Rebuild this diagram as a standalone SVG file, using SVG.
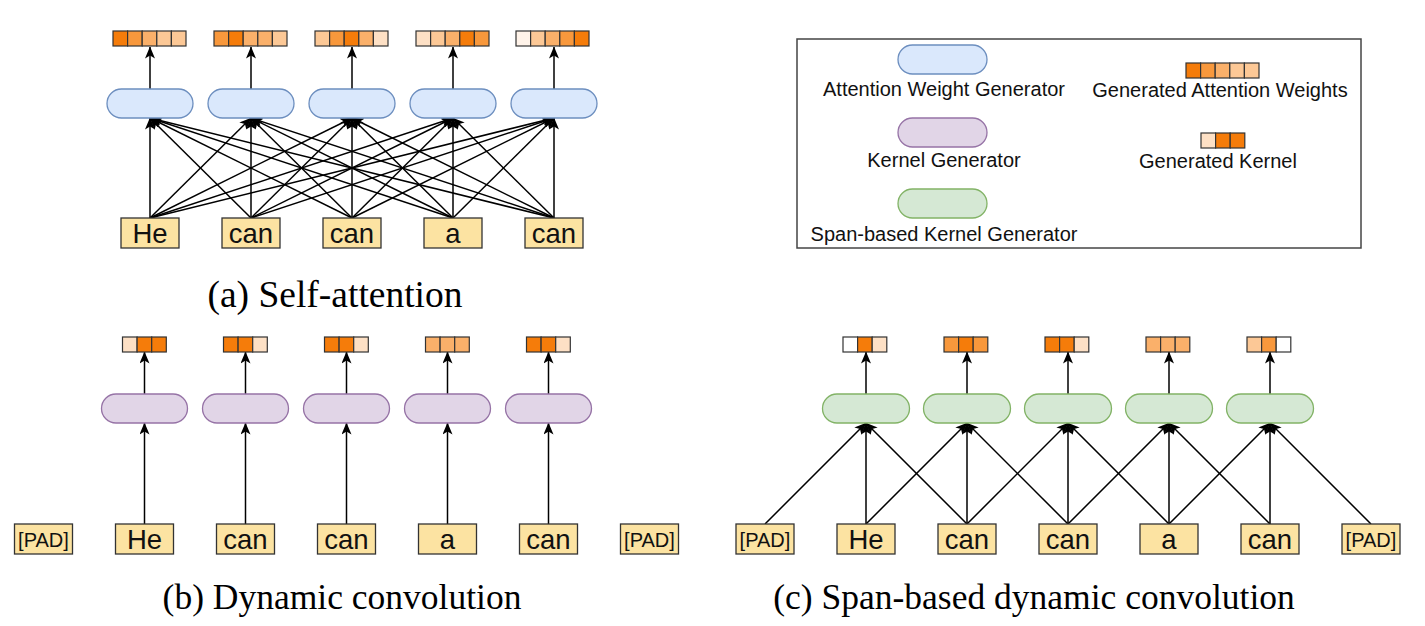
<svg xmlns="http://www.w3.org/2000/svg" width="1425" height="626" viewBox="0 0 1425 626">
<defs>
<marker id="arr" markerUnits="userSpaceOnUse" markerWidth="12" markerHeight="10" viewBox="0 0 12 10" refX="11.5" refY="5" orient="auto">
<path d="M0,0 L12,5 L0,10 L3,5 Z" fill="#000"/>
</marker>
<style>
.bg{fill:#fff}
.pa{fill:#dae8fc;stroke:#6c8ebf;stroke-width:1.3}
.pk{fill:#e1d5e7;stroke:#9673a6;stroke-width:1.3}
.ps{fill:#d5e8d4;stroke:#82b366;stroke-width:1.3}
.tok{fill:#fce3a2;stroke:#333;stroke-width:1.3}
.tt{font-family:"Liberation Sans",Arial,sans-serif;font-size:27.5px;fill:#111;text-anchor:middle}
.pt{font-family:"Liberation Sans",Arial,sans-serif;font-size:20px;fill:#111;text-anchor:middle}
.lg{font-family:"Liberation Sans",Arial,sans-serif;font-size:20px;fill:#111;text-anchor:middle}
.cap{font-family:"Liberation Serif","Times New Roman",serif;font-size:35.5px;fill:#000;text-anchor:middle}
.e{stroke:#000;stroke-width:1.5;fill:none;marker-end:url(#arr)}
.bar rect{stroke:#333;stroke-width:1.2;height:15px;width:14.6px}
.k0{fill:#ffffff}.kw{fill:#fff3e9}.k1{fill:#fde0c5}.k2{fill:#fcc896}.k3{fill:#fab06a}.k4{fill:#f8983c}.k5{fill:#f57c0a}
.box{fill:none;stroke:#444;stroke-width:1.5}
</style>
</defs>
<rect class="bg" x="0" y="0" width="1425" height="626"/>

<!-- ========== (a) Self-attention ========== -->
<g id="a-edges">
<path class="e" d="M150,218 L150,118"/><path class="e" d="M150,218 L251,118"/><path class="e" d="M150,218 L352,118"/><path class="e" d="M150,218 L453,118"/><path class="e" d="M150,218 L554,118"/>
<path class="e" d="M251,218 L150,118"/><path class="e" d="M251,218 L251,118"/><path class="e" d="M251,218 L352,118"/><path class="e" d="M251,218 L453,118"/><path class="e" d="M251,218 L554,118"/>
<path class="e" d="M352,218 L150,118"/><path class="e" d="M352,218 L251,118"/><path class="e" d="M352,218 L352,118"/><path class="e" d="M352,218 L453,118"/><path class="e" d="M352,218 L554,118"/>
<path class="e" d="M453,218 L150,118"/><path class="e" d="M453,218 L251,118"/><path class="e" d="M453,218 L352,118"/><path class="e" d="M453,218 L453,118"/><path class="e" d="M453,218 L554,118"/>
<path class="e" d="M554,218 L150,118"/><path class="e" d="M554,218 L251,118"/><path class="e" d="M554,218 L352,118"/><path class="e" d="M554,218 L453,118"/><path class="e" d="M554,218 L554,118"/>
<path class="e" d="M150,89 L150,47"/><path class="e" d="M251,89 L251,47"/><path class="e" d="M352,89 L352,47"/><path class="e" d="M453,89 L453,47"/><path class="e" d="M554,89 L554,47"/>
</g>

<g id="a-gen1"><rect class="pa" x="107" y="89" width="86" height="29" rx="14.5"/></g>
<g id="a-gen2"><rect class="pa" x="208" y="89" width="86" height="29" rx="14.5"/></g>
<g id="a-gen3"><rect class="pa" x="309" y="89" width="86" height="29" rx="14.5"/></g>
<g id="a-gen4"><rect class="pa" x="410" y="89" width="86" height="29" rx="14.5"/></g>
<g id="a-gen5"><rect class="pa" x="511" y="89" width="86" height="29" rx="14.5"/></g>

<g id="a-w1" class="bar" transform="translate(113,31)"><rect class="k5" x="0"/><rect class="k4" x="14.6"/><rect class="k3" x="29.2"/><rect class="k2" x="43.8"/><rect class="k2" x="58.4"/></g>
<g id="a-w2" class="bar" transform="translate(214,31)"><rect class="k4" x="0"/><rect class="k5" x="14.6"/><rect class="k3" x="29.2"/><rect class="k3" x="43.8"/><rect class="k2" x="58.4"/></g>
<g id="a-w3" class="bar" transform="translate(315,31)"><rect class="k2" x="0"/><rect class="k4" x="14.6"/><rect class="k5" x="29.2"/><rect class="k3" x="43.8"/><rect class="k1" x="58.4"/></g>
<g id="a-w4" class="bar" transform="translate(416,31)"><rect class="k1" x="0"/><rect class="k2" x="14.6"/><rect class="k3" x="29.2"/><rect class="k5" x="43.8"/><rect class="k4" x="58.4"/></g>
<g id="a-w5" class="bar" transform="translate(516,31)"><rect class="kw" x="0"/><rect class="k2" x="14.6"/><rect class="k3" x="29.2"/><rect class="k4" x="43.8"/><rect class="k5" x="58.4"/></g>

<g id="a-t1"><rect class="tok" x="121" y="218" width="58" height="30"/><text class="tt" x="150" y="243">He</text></g>
<g id="a-t2"><rect class="tok" x="222" y="218" width="58" height="30"/><text class="tt" x="251" y="243">can</text></g>
<g id="a-t3"><rect class="tok" x="323" y="218" width="58" height="30"/><text class="tt" x="352" y="243">can</text></g>
<g id="a-t4"><rect class="tok" x="424" y="218" width="58" height="30"/><text class="tt" x="453" y="243">a</text></g>
<g id="a-t5"><rect class="tok" x="525" y="218" width="58" height="30"/><text class="tt" x="554" y="243">can</text></g>

<text id="cap-a" class="cap" x="335" y="307" style="font-size:37.5px">(a) Self-attention</text>

<!-- ========== Legend ========== -->
<g id="legend">
<rect class="box" x="797" y="39" width="564" height="209"/>
<g id="lg-attn"><rect class="pa" x="898" y="45" width="89" height="29" rx="14.5"/><text class="lg" x="944" y="96">Attention Weight Generator</text></g>
<g id="lg-kern"><rect class="pk" x="898" y="118" width="89" height="29" rx="14.5"/><text class="lg" x="944" y="167">Kernel Generator</text></g>
<g id="lg-span"><rect class="ps" x="898" y="189" width="89" height="29" rx="14.5"/><text class="lg" x="944" y="241">Span-based Kernel Generator</text></g>
<g id="lg-weights"><g class="bar" transform="translate(1186,63)"><rect class="k5" x="0"/><rect class="k4" x="14.6"/><rect class="k3" x="29.2"/><rect class="k2" x="43.8"/><rect class="k2" x="58.4"/></g><text class="lg" x="1220" y="97">Generated Attention Weights</text></g>
<g id="lg-kernel"><g class="bar" transform="translate(1201,133)"><rect class="k1" x="0"/><rect class="k5" x="14.6"/><rect class="k5" x="29.2"/></g><text class="lg" x="1218" y="168">Generated Kernel</text></g>
</g>

<!-- ========== (b) Dynamic convolution ========== -->
<g id="b-edges">
<path class="e" d="M144.5,524 L144.5,423"/><path class="e" d="M245.5,524 L245.5,423"/><path class="e" d="M346.5,524 L346.5,423"/><path class="e" d="M447.5,524 L447.5,423"/><path class="e" d="M548.5,524 L548.5,423"/>
<path class="e" d="M144.5,394 L144.5,352"/><path class="e" d="M245.5,394 L245.5,352"/><path class="e" d="M346.5,394 L346.5,352"/><path class="e" d="M447.5,394 L447.5,352"/><path class="e" d="M548.5,394 L548.5,352"/>
</g>
<g id="b-gen1"><rect class="pk" x="101.5" y="394" width="86" height="29" rx="14.5"/></g>
<g id="b-gen2"><rect class="pk" x="202.5" y="394" width="86" height="29" rx="14.5"/></g>
<g id="b-gen3"><rect class="pk" x="303.5" y="394" width="86" height="29" rx="14.5"/></g>
<g id="b-gen4"><rect class="pk" x="404.5" y="394" width="86" height="29" rx="14.5"/></g>
<g id="b-gen5"><rect class="pk" x="505.5" y="394" width="86" height="29" rx="14.5"/></g>

<g id="b-k1" class="bar" transform="translate(122.5,337)"><rect class="k1" x="0"/><rect class="k5" x="14.6"/><rect class="k5" x="29.2"/></g>
<g id="b-k2" class="bar" transform="translate(223.5,337)"><rect class="k5" x="0"/><rect class="k5" x="14.6"/><rect class="k1" x="29.2"/></g>
<g id="b-k3" class="bar" transform="translate(324.5,337)"><rect class="k5" x="0"/><rect class="k5" x="14.6"/><rect class="k1" x="29.2"/></g>
<g id="b-k4" class="bar" transform="translate(425.5,337)"><rect class="k3" x="0"/><rect class="k3" x="14.6"/><rect class="k3" x="29.2"/></g>
<g id="b-k5" class="bar" transform="translate(526.5,337)"><rect class="k5" x="0"/><rect class="k5" x="14.6"/><rect class="k1" x="29.2"/></g>

<g id="b-t0"><rect class="tok" x="14.5" y="524" width="58" height="30"/><text class="pt" x="43.5" y="547">[PAD]</text></g>
<g id="b-t1"><rect class="tok" x="115.5" y="524" width="58" height="30"/><text class="tt" x="144.5" y="549">He</text></g>
<g id="b-t2"><rect class="tok" x="216.5" y="524" width="58" height="30"/><text class="tt" x="245.5" y="549">can</text></g>
<g id="b-t3"><rect class="tok" x="317.5" y="524" width="58" height="30"/><text class="tt" x="346.5" y="549">can</text></g>
<g id="b-t4"><rect class="tok" x="418.5" y="524" width="58" height="30"/><text class="tt" x="447.5" y="549">a</text></g>
<g id="b-t5"><rect class="tok" x="519.5" y="524" width="58" height="30"/><text class="tt" x="548.5" y="549">can</text></g>
<g id="b-t6"><rect class="tok" x="620.5" y="524" width="58" height="30"/><text class="pt" x="649.5" y="547">[PAD]</text></g>

<text id="cap-b" class="cap" x="342" y="609">(b) Dynamic convolution</text>

<!-- ========== (c) Span-based dynamic convolution ========== -->
<g id="c-edges">
<path class="e" d="M765,524 L866,423"/>
<path class="e" d="M866,524 L866,423"/><path class="e" d="M866,524 L967,423"/>
<path class="e" d="M967,524 L866,423"/><path class="e" d="M967,524 L967,423"/><path class="e" d="M967,524 L1068,423"/>
<path class="e" d="M1068,524 L967,423"/><path class="e" d="M1068,524 L1068,423"/><path class="e" d="M1068,524 L1169,423"/>
<path class="e" d="M1169,524 L1068,423"/><path class="e" d="M1169,524 L1169,423"/><path class="e" d="M1169,524 L1270,423"/>
<path class="e" d="M1270,524 L1169,423"/><path class="e" d="M1270,524 L1270,423"/>
<path class="e" d="M1371,524 L1270,423"/>
<path class="e" d="M866,394 L866,352"/><path class="e" d="M967,394 L967,352"/><path class="e" d="M1068,394 L1068,352"/><path class="e" d="M1169,394 L1169,352"/><path class="e" d="M1270,394 L1270,352"/>
</g>
<g id="c-gen1"><rect class="ps" x="822.5" y="394" width="87" height="29" rx="14.5"/></g>
<g id="c-gen2"><rect class="ps" x="923.5" y="394" width="87" height="29" rx="14.5"/></g>
<g id="c-gen3"><rect class="ps" x="1024.5" y="394" width="87" height="29" rx="14.5"/></g>
<g id="c-gen4"><rect class="ps" x="1125.5" y="394" width="87" height="29" rx="14.5"/></g>
<g id="c-gen5"><rect class="ps" x="1226.5" y="394" width="87" height="29" rx="14.5"/></g>

<g id="c-k1" class="bar" transform="translate(843,337)"><rect class="k0" x="0"/><rect class="k5" x="14.6"/><rect class="k1" x="29.2"/></g>
<g id="c-k2" class="bar" transform="translate(944,337)"><rect class="k4" x="0"/><rect class="k5" x="14.6"/><rect class="k4" x="29.2"/></g>
<g id="c-k3" class="bar" transform="translate(1045,337)"><rect class="k5" x="0"/><rect class="k5" x="14.6"/><rect class="k1" x="29.2"/></g>
<g id="c-k4" class="bar" transform="translate(1146,337)"><rect class="k3" x="0"/><rect class="k3" x="14.6"/><rect class="k3" x="29.2"/></g>
<g id="c-k5" class="bar" transform="translate(1247,337)"><rect class="k2" x="0"/><rect class="k4" x="14.6"/><rect class="k0" x="29.2"/></g>

<g id="c-t0"><rect class="tok" x="736" y="524" width="58" height="30"/><text class="pt" x="765" y="547">[PAD]</text></g>
<g id="c-t1"><rect class="tok" x="837" y="524" width="58" height="30"/><text class="tt" x="866" y="549">He</text></g>
<g id="c-t2"><rect class="tok" x="938" y="524" width="58" height="30"/><text class="tt" x="967" y="549">can</text></g>
<g id="c-t3"><rect class="tok" x="1039" y="524" width="58" height="30"/><text class="tt" x="1068" y="549">can</text></g>
<g id="c-t4"><rect class="tok" x="1140" y="524" width="58" height="30"/><text class="tt" x="1169" y="549">a</text></g>
<g id="c-t5"><rect class="tok" x="1241" y="524" width="58" height="30"/><text class="tt" x="1270" y="549">can</text></g>
<g id="c-t6"><rect class="tok" x="1342" y="524" width="58" height="30"/><text class="pt" x="1371" y="547">[PAD]</text></g>

<text id="cap-c" class="cap" x="1034" y="609">(c) Span-based dynamic convolution</text>
</svg>
